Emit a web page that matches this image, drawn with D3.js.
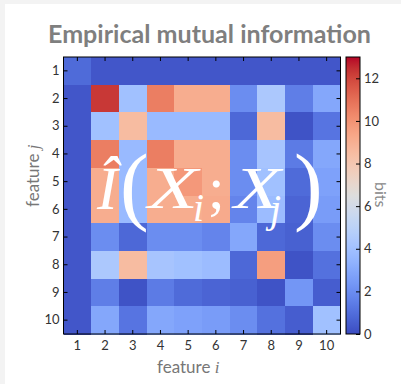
<!DOCTYPE html>
<html>
<head>
<meta charset="utf-8">
<script src="https://cdn.jsdelivr.net/npm/d3@7/dist/d3.min.js"></script>
<style>
  html, body { margin: 0; padding: 0; background: #f3f3f3; }
  svg { display: block; }
</style>
</head>
<body>
<svg id="chart" width="401" height="384"></svg>
<script>
// Feature indices shown on both axes
const features = [1, 2, 3, 4, 5, 6, 7, 8, 9, 10];

// Empirical mutual information (bits) between feature j (row) and feature i (column)
const mutualInfo = [
  [0.9, 0.3, 0.3, 0.3, 0.3, 0.3, 0.3, 0.3, 0.3, 0.3],
  [0.3, 12.3, 4.0, 10.6, 9.1, 9.1, 2.0, 4.4, 1.5, 2.9],
  [0.3, 4.0, 8.5, 3.7, 3.7, 3.7, 0.8, 8.5, 0.2, 1.2],
  [0.3, 10.6, 3.7, 10.6, 9.1, 9.1, 2.0, 4.2, 1.4, 2.9],
  [0.3, 9.1, 3.7, 9.1, 9.8, 9.1, 2.0, 4.0, 0.9, 2.7],
  [0.3, 9.1, 3.7, 9.1, 9.1, 9.2, 1.7, 3.8, 0.7, 2.5],
  [0.3, 2.0, 0.8, 2.0, 2.0, 1.7, 2.9, 0.8, 0.6, 2.0],
  [0.3, 4.4, 8.5, 4.2, 4.0, 3.8, 0.8, 9.6, 0.2, 1.1],
  [0.3, 1.5, 0.2, 1.4, 0.9, 0.7, 0.6, 0.2, 2.3, 0.5],
  [0.3, 2.9, 1.2, 2.9, 2.7, 2.5, 2.0, 1.1, 0.5, 4.0]
];

// Colour bar range and ticks (bits)
const colorMin = 0;
const colorMax = 13;
const colorbarTicks = [0, 2, 4, 6, 8, 10, 12];

// Diverging "coolwarm" colour map control points
const coolwarmStops = [
  [59,76,192],[68,90,204],[77,104,215],[87,117,225],[98,130,234],[108,142,241],
  [119,154,247],[130,165,251],[141,176,254],[152,185,255],[163,194,255],[174,201,253],
  [184,208,249],[194,213,244],[204,217,238],[213,219,230],[221,221,221],[229,216,209],
  [236,211,197],[241,204,185],[245,196,173],[247,187,160],[247,177,148],[247,166,135],
  [244,154,123],[241,141,111],[236,127,99],[229,112,88],[222,96,77],[213,80,66],
  [203,62,56],[192,40,47],[180,4,38]
];

const svg = d3.select("#chart");

// light page with a white panel
svg.append("rect").attr("x", 5).attr("y", 4).attr("width", 396).attr("height", 380).attr("fill", "#ffffff");

const plot = { left: 63.5, right: 340.5, top: 57, bottom: 334 };
const cbar = { left: 346, right: 360 };

const x = d3.scaleBand().domain(features).range([plot.left, plot.right]);
const y = d3.scaleBand().domain(features).range([plot.top, plot.bottom]);

const color = d3.scaleLinear()
  .domain(coolwarmStops.map((_, k) => colorMin + (colorMax - colorMin) * k / (coolwarmStops.length - 1)))
  .range(coolwarmStops.map(c => d3.rgb(c[0], c[1], c[2])))
  .interpolate(d3.interpolateRgb)
  .clamp(true);

// heat map cells
const cells = [];
mutualInfo.forEach((row, r) => row.forEach((v, c) => cells.push({ j: features[r], i: features[c], v })));

svg.append("g").selectAll("rect").data(cells).join("rect")
  .attr("x", d => x(d.i))
  .attr("y", d => y(d.j))
  .attr("width", x.bandwidth() + 0.5)
  .attr("height", y.bandwidth() + 0.5)
  .attr("fill", d => color(d.v))
  .attr("shape-rendering", "crispEdges");

// axes with inward ticks on all four sides
const tickFont = "Lato, 'Open Sans', sans-serif";
function styleAxis(g) {
  g.select(".domain").remove();
  g.selectAll(".tick line").attr("stroke", "#000").attr("stroke-width", 1);
  g.selectAll(".tick text").attr("fill", "#333").style("font-family", tickFont).style("font-size", "13px");
}
svg.append("g").attr("transform", `translate(0,${plot.bottom})`)
  .call(d3.axisBottom(x).tickSizeInner(-4).tickSizeOuter(0).tickPadding(6.5)).call(styleAxis);
svg.append("g").attr("transform", `translate(0,${plot.top})`)
  .call(d3.axisTop(x).tickSizeInner(-4).tickSizeOuter(0).tickFormat("")).call(styleAxis);
svg.append("g").attr("transform", `translate(${plot.left},0)`)
  .call(d3.axisLeft(y).tickSizeInner(-4).tickSizeOuter(0).tickPadding(4)).call(styleAxis);
svg.append("g").attr("transform", `translate(${plot.right},0)`)
  .call(d3.axisRight(y).tickSizeInner(-4).tickSizeOuter(0).tickFormat("")).call(styleAxis);

svg.append("rect")
  .attr("x", plot.left).attr("y", plot.top)
  .attr("width", plot.right - plot.left).attr("height", plot.bottom - plot.top)
  .attr("fill", "none").attr("stroke", "#000").attr("stroke-width", 1);

// colour bar
const cScale = d3.scaleLinear().domain([colorMin, colorMax]).range([plot.bottom, plot.top]);
const grad = svg.append("defs").append("linearGradient")
  .attr("id", "cbarGrad").attr("x1", 0).attr("y1", 1).attr("x2", 0).attr("y2", 0);
d3.range(0, 1.0001, 0.02).forEach(t => {
  grad.append("stop").attr("offset", t).attr("stop-color", color(colorMin + t * (colorMax - colorMin)));
});
svg.append("rect")
  .attr("x", cbar.left).attr("y", plot.top)
  .attr("width", cbar.right - cbar.left).attr("height", plot.bottom - plot.top)
  .attr("fill", "url(#cbarGrad)").attr("stroke", "#000").attr("stroke-width", 1);
svg.append("g").attr("transform", `translate(${cbar.right},0)`)
  .call(d3.axisRight(cScale).tickValues(colorbarTicks).tickSizeInner(-4).tickSizeOuter(0).tickPadding(4))
  .call(styleAxis);

// title
svg.append("text")
  .attr("x", 209.5).attr("y", 43)
  .attr("text-anchor", "middle")
  .attr("fill", "#7f7f7f")
  .attr("textLength", 323).attr("lengthAdjust", "spacingAndGlyphs")
  .style("font-family", "Lato, 'Open Sans', sans-serif")
  .style("font-weight", "bold")
  .style("font-size", "25px")
  .text("Empirical mutual information");

// axis labels
const xl = svg.append("text")
  .attr("x", 157).attr("y", 372.5)
  .attr("fill", "#777")
  .style("font-family", "Lato, 'Open Sans', sans-serif")
  .style("font-size", "17px");
xl.append("tspan").text("feature ");
xl.append("tspan").style("font-family", "'Liberation Serif', serif").style("font-style", "italic").text("i");

const yl = svg.append("text")
  .attr("transform", "translate(39,207) rotate(-90)")
  .attr("fill", "#777")
  .style("font-family", "Lato, 'Open Sans', sans-serif")
  .style("font-size", "17px");
yl.append("tspan").text("feature ");
yl.append("tspan").style("font-family", "'Liberation Serif', serif").style("font-style", "italic").text("j");

svg.append("text")
  .attr("transform", "translate(375,182) rotate(90)")
  .attr("fill", "#888")
  .style("font-family", "Lato, 'Open Sans', sans-serif")
  .style("font-size", "16px")
  .text("bits");

// formula overlay: Î(X_i; X_j)
const f = svg.append("g")
  .attr("fill", "#ffffff")
  .style("font-family", "'Liberation Serif', 'DejaVu Serif', serif");
const pieces = [
  { t: "Î", x: 97, y: 209, s: 62, it: true, w: 0 },
  { t: "(", x: 120, y: 214, s: 86, it: false, w: 0 },
  { t: "X", x: 148, y: 208, s: 60, it: true, w: 50 },
  { t: "i", x: 193, y: 221, s: 40, it: true, w: 0 },
  { t: ";", x: 208, y: 208, s: 60, it: false, w: 0 },
  { t: "X", x: 234, y: 208, s: 60, it: true, w: 47 },
  { t: "j", x: 270, y: 222, s: 40, it: true, w: 0 },
  { t: ")", x: 294, y: 214, s: 86, it: false, w: 0 }
];
const ft = f.selectAll("text").data(pieces).join("text")
  .attr("x", d => d.x).attr("y", d => d.y)
  .style("font-size", d => d.s + "px")
  .style("font-style", d => d.it ? "italic" : "normal")
  .text(d => d.t);
ft.filter(d => d.w > 0)
  .attr("textLength", d => d.w)
  .attr("lengthAdjust", "spacingAndGlyphs");
</script>
</body>
</html>
